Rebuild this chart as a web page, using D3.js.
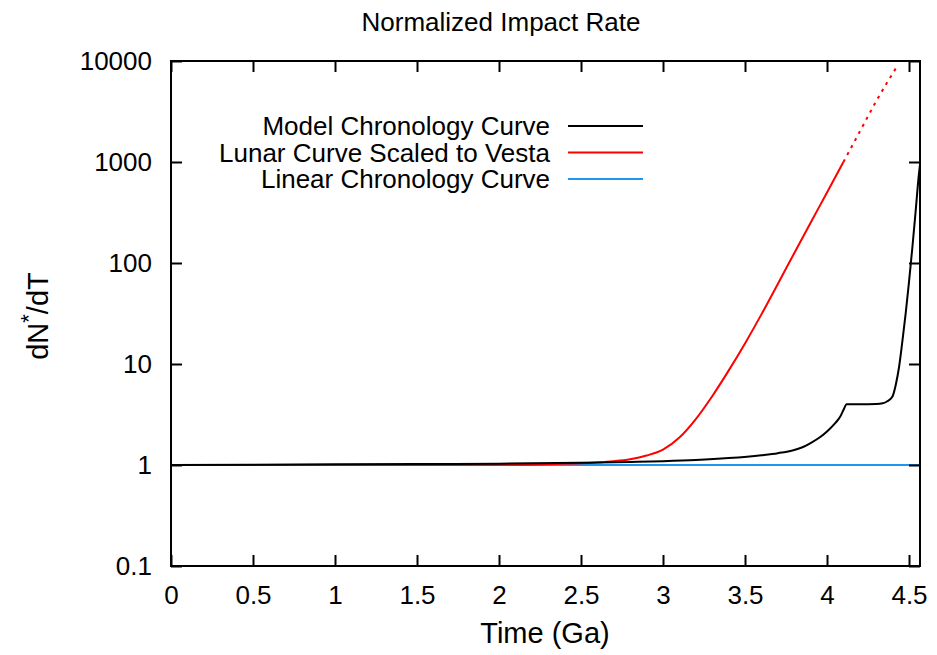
<!DOCTYPE html>
<html>
<head>
<meta charset="utf-8">
<script src="https://cdn.jsdelivr.net/npm/d3@7"></script>
<style>
  body { margin: 0; background: #fff; }
  svg { font-family: "Liberation Sans", Arial, sans-serif; }
  .tick-label { font-size: 26px; fill: #000; }
</style>
</head>
<body>
<svg width="937" height="655"></svg>
<script>
//Data
const modelT   = [0, 0.5, 1, 1.5, 2, 2.5, 2.8, 3, 3.2, 3.4, 3.6, 3.7, 3.8, 3.85, 3.9, 3.95, 4, 4.05, 4.08, 4.1, 4.12, 4.2, 4.3, 4.34, 4.37, 4.4, 4.42, 4.44, 4.46, 4.48, 4.5, 4.52, 4.54, 4.56, 4.567];
const modelVal = [1, 1.008, 1.015, 1.022, 1.03, 1.05, 1.07, 1.09, 1.12, 1.17, 1.25, 1.31, 1.41, 1.5, 1.65, 1.85, 2.15, 2.6, 3.0, 3.5, 4.0, 4.0, 4.02, 4.08, 4.3, 4.8, 6.3, 9.5, 17, 32, 65, 140, 320, 750, 950];

const lunarT   = [0, 1, 2, 2.3, 2.5, 2.6, 2.7, 2.8, 2.9, 3, 3.1, 3.2, 3.3, 3.4, 3.5, 3.6, 3.7, 3.8, 3.9, 4, 4.1];
const lunarVal = [1, 1, 1.005, 1.02, 1.04, 1.06, 1.09, 1.14, 1.24, 1.42, 1.87, 2.85, 4.8, 8.6, 16, 31, 62, 125, 250, 500, 1000];
//Extrapolated part (dotted)
const lunarExtT   = [4.1, 4.2, 4.3, 4.43];
const lunarExtVal = [1000, 2000, 4000, 9000];

const linearT   = [0, 4.567];
const linearVal = [1, 1];

const xTicks = [0, 0.5, 1, 1.5, 2, 2.5, 3, 3.5, 4, 4.5];
const yTicks = [0.1, 1, 10, 100, 1000, 10000];

const legendNames  = ["Model Chronology Curve", "Lunar Curve Scaled to Vesta", "Linear Chronology Curve"];
const legendColors = ["#000000", "#ff0000", "#1e96f0"];

//Layout
const padLeft = 171, padRight = 920, padTop = 61, padBottom = 566;

const xScale = d3.scaleLinear().domain([0, 4.567]).range([padLeft, padRight]);
const yScale = d3.scaleLog().domain([0.1, 10000]).range([padBottom, padTop]);

const chart = d3.select("svg");

chart.append("clipPath").attr("id", "clip")
     .append("rect")
     .attr("x", padLeft).attr("y", padTop)
     .attr("width", padRight - padLeft).attr("height", padBottom - padTop);

const zip = (ts, vs) => ts.map((t, i) => [t, vs[i]]);
const line = d3.line()
               .x(d => xScale(d[0]))
               .y(d => yScale(d[1]))
               .curve(d3.curveMonotoneX);

const plot = chart.append("g").attr("clip-path", "url(#clip)");

plot.append("path")
    .datum(zip(linearT, linearVal))
    .attr("d", line)
    .attr("fill", "none")
    .attr("stroke", legendColors[2])
    .attr("stroke-width", 2);

plot.append("path")
    .datum(zip(lunarT, lunarVal))
    .attr("d", line)
    .attr("fill", "none")
    .attr("stroke", legendColors[1])
    .attr("stroke-width", 2);

plot.append("path")
    .datum(zip(lunarExtT, lunarExtVal))
    .attr("d", line)
    .attr("fill", "none")
    .attr("stroke", legendColors[1])
    .attr("stroke-width", 2)
    .attr("stroke-dasharray", "3,5");

plot.append("path")
    .datum(zip(modelT, modelVal))
    .attr("d", line)
    .attr("fill", "none")
    .attr("stroke", legendColors[0])
    .attr("stroke-width", 2);

//Axes (inward ticks, mirrored on top and right)
const tickLen = 11;
const fmt = d3.format("~g");

chart.append("g")
     .attr("transform", "translate(0," + padBottom + ")")
     .call(d3.axisBottom(xScale).tickValues(xTicks).tickSize(-tickLen).tickPadding(tickLen + 9).tickFormat(fmt))
     .call(g => g.select(".domain").remove())
     .call(g => g.selectAll("line").attr("stroke-width", 2))
     .call(g => g.selectAll("text").attr("class", "tick-label").attr("font-size", null).attr("font-family", null));

chart.append("g")
     .attr("transform", "translate(0," + padTop + ")")
     .call(d3.axisTop(xScale).tickValues(xTicks).tickSize(-tickLen).tickFormat(""))
     .call(g => g.select(".domain").remove())
     .call(g => g.selectAll("line").attr("stroke-width", 2));

chart.append("g")
     .attr("transform", "translate(" + padLeft + ",0)")
     .call(d3.axisLeft(yScale).tickValues(yTicks).tickSize(-tickLen).tickPadding(tickLen + 8).tickFormat(fmt))
     .call(g => g.select(".domain").remove())
     .call(g => g.selectAll("line").attr("stroke-width", 2))
     .call(g => g.selectAll("text").attr("class", "tick-label").attr("font-size", null).attr("font-family", null));

chart.append("g")
     .attr("transform", "translate(" + padRight + ",0)")
     .call(d3.axisRight(yScale).tickValues(yTicks).tickSize(-tickLen).tickFormat(""))
     .call(g => g.select(".domain").remove())
     .call(g => g.selectAll("line").attr("stroke-width", 2));

chart.append("rect")
     .attr("x", padLeft).attr("y", padTop)
     .attr("width", padRight - padLeft).attr("height", padBottom - padTop)
     .attr("fill", "none")
     .attr("stroke", "#000")
     .attr("stroke-width", 2);

//Legend
const legend = chart.append("g");
legendNames.forEach((name, i) => {
  const y = 126 + i * 26.5;
  legend.append("text")
        .attr("x", 550).attr("y", y + 9)
        .attr("text-anchor", "end")
        .attr("font-size", 26)
        .text(name);
  legend.append("line")
        .attr("x1", 568).attr("x2", 643)
        .attr("y1", y).attr("y2", y)
        .attr("stroke", legendColors[i])
        .attr("stroke-width", 2);
});

//Labels
chart.append("text")
     .attr("x", 501).attr("y", 31)
     .attr("text-anchor", "middle")
     .attr("font-size", 26)
     .text("Normalized Impact Rate");

chart.append("text")
     .attr("x", 545).attr("y", 643)
     .attr("text-anchor", "middle")
     .attr("font-size", 29)
     .text("Time (Ga)");

const yLabel = chart.append("text")
     .attr("transform", "translate(48,316) rotate(-90)")
     .attr("text-anchor", "middle")
     .attr("font-size", 29);
yLabel.append("tspan").text("dN");
yLabel.append("tspan").attr("dy", -12).attr("font-size", 22).text("*");
yLabel.append("tspan").attr("dy", 12).text("/dT");
</script>
</body>
</html>
